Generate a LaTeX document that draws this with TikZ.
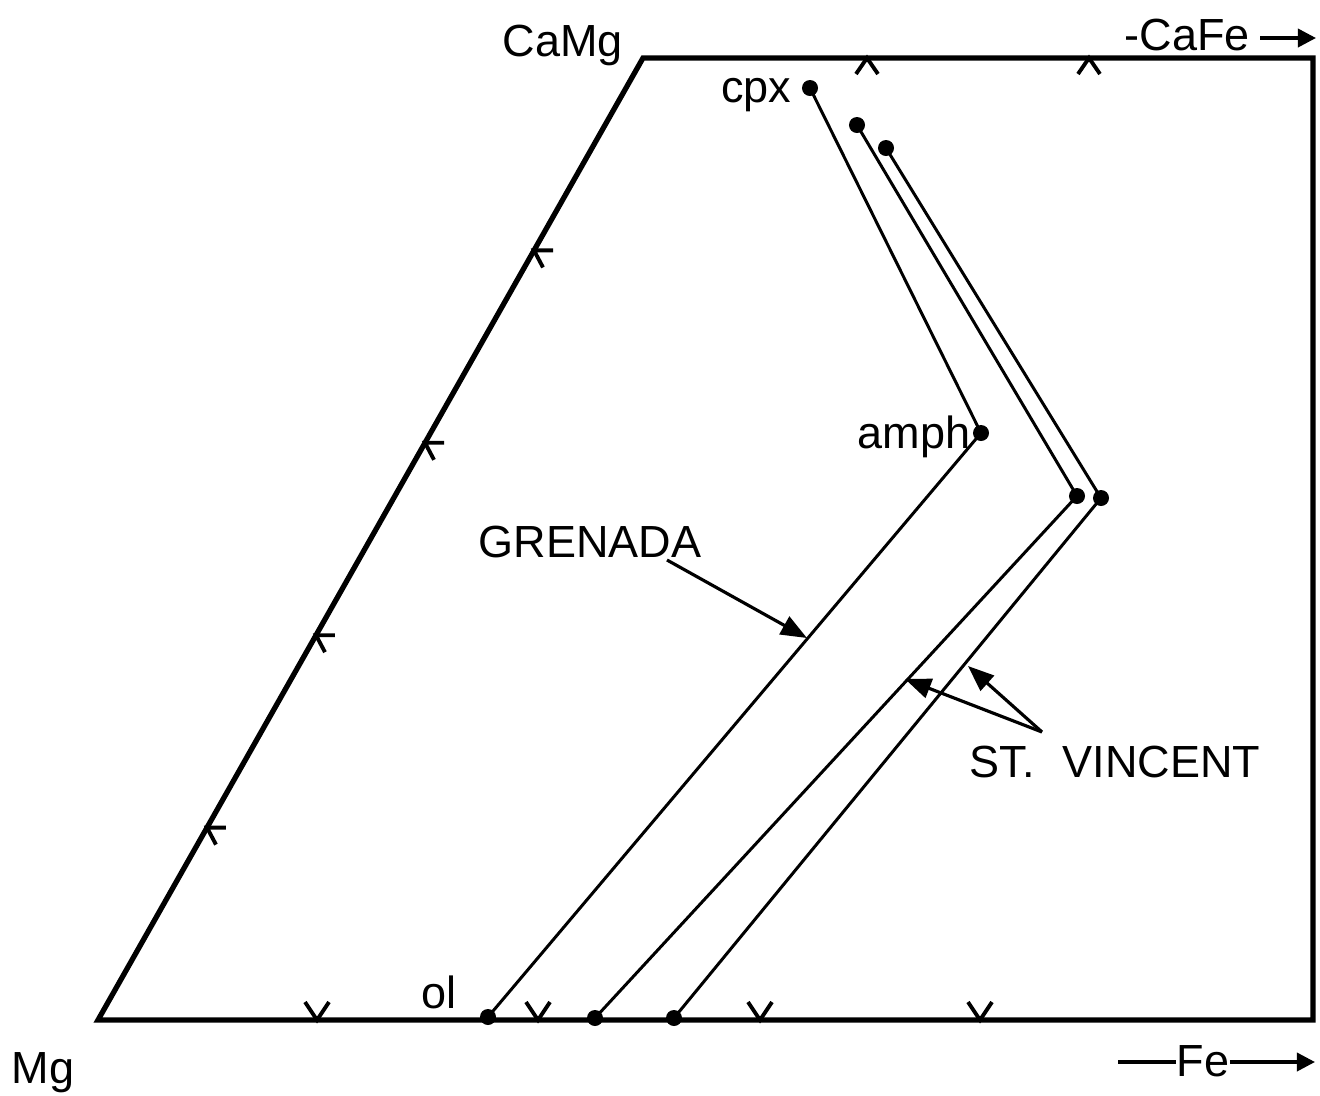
\documentclass[tikz,border=0pt]{standalone}
\usepackage{fontspec}
\setmainfont{Liberation Sans}
\usetikzlibrary{arrows.meta,calc}
\begin{document}
\begin{tikzpicture}[x=0.01cm,y=-0.01cm,
 frame/.style={line width=1.5pt, line join=miter},
 tie/.style={line width=0.85pt},
 tickmark/.style={line width=1.1pt},
 dot/.style={circle, fill=black, inner sep=0pt, minimum size=0.16cm},
 lbl/.style={font=\fontsize{12.8}{14}\selectfont, inner sep=0pt, anchor=base},
 pointer/.style={line width=0.9pt, -{Triangle[length=0.26cm, width=0.2cm]}},
 axisarrow/.style={line width=1pt, -{Triangle[length=0.18cm, width=0.18cm]}},
]
\useasboundingbox (0,0) rectangle (1320,1096);
% frame
\coordinate (MG) at (98,1020);
\coordinate (CAMG) at (643,58);
\coordinate (TR) at (1313,58);
\coordinate (BR) at (1313,1020);
\draw[frame] (MG) -- (CAMG) -- (TR) -- (BR) -- cycle;
% ticks on left edge
\foreach \k in {0.2,0.4,0.6,0.8}{
  \coordinate (t) at ($(MG)!\k!(CAMG)$);
  \draw[tickmark] ($(t)+(19,0)$) -- (t) -- ($(t)+(9,17)$);
}
% ticks on top edge
\foreach \xx in {867,1089}{
  \draw[tickmark] (\xx-11,74) -- (\xx,58) -- (\xx+11,74);
}
% ticks on bottom edge
\foreach \xx in {317,538,760,980}{
  \draw[tickmark] (\xx-12,1002) -- (\xx,1020) -- (\xx+12,1002);
}
% dots
\node[dot] (cpx) at (810,88) {};
\node[dot] (amph) at (981,433) {};
\node[dot] (ol) at (488,1017) {};
\node[dot] (sa1) at (857,125) {};
\node[dot] (sb1) at (1077,496) {};
\node[dot] (sc1) at (595,1018) {};
\node[dot] (sa2) at (886,148) {};
\node[dot] (sb2) at (1101,498) {};
\node[dot] (sc2) at (674,1018) {};
% tie lines
\draw[tie] (cpx.center) -- (amph.center) -- (ol.center);
\draw[tie] (sa1.center) -- (sb1.center) -- (sc1.center);
\draw[tie] (sa2.center) -- (sb2.center) -- (sc2.center);
% labels
\node[lbl] (lcamg) at (563,56) {CaMg};
\node[lbl, anchor=base west] (lcafe) at (1124,50) {-CaFe};
\node[lbl, anchor=base east] (lcpx) at (792,102) {cpx};
\node[lbl, anchor=base east] (lamph) at (971,448) {amph};
\node[lbl] (lol) at (439,1008) {ol};
\node[lbl] (lgren) at (590,557) {GRENADA};
\node[lbl] (lstv) at (1115,777) {ST.\,\, VINCENT};
\node[lbl] (lmg) at (43,1083) {Mg};
\node[lbl] (lfe) at (1203,1076) {Fe};
% axis arrows
\coordinate (cafetip) at (1316,38);
\draw[axisarrow] ([xshift=0.1cm]lcafe.east |- cafetip) -- (cafetip);
\coordinate (festart) at (1118,1062);
\coordinate (fetip) at (1315,1062);
\draw[line width=1pt] (festart) -- (lfe.west |- festart);
\draw[axisarrow] (lfe.east |- fetip) -- (fetip);
% pointers
\coordinate (gstart) at (667,560);
\coordinate (gtip) at (807,638);
\draw[pointer] (gstart) -- (gtip);
\coordinate (vstart) at (1042,732);
\coordinate (vtip1) at (905,679);
\coordinate (vtip2) at (968,666);
\draw[pointer] (vstart) -- (vtip1);
\draw[pointer] (vstart) -- (vtip2);
\end{tikzpicture}
\end{document}
